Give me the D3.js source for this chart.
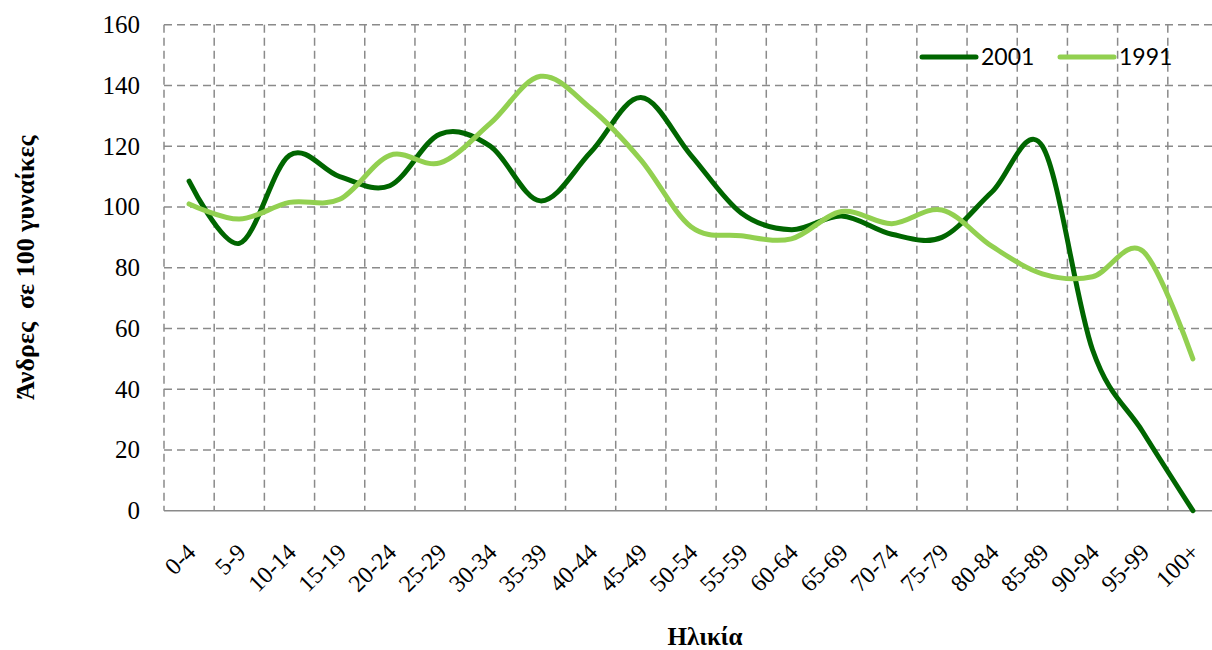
<!DOCTYPE html>
<html>
<head>
<meta charset="utf-8">
<script src="https://cdn.jsdelivr.net/npm/d3@7"></script>
<style>
  html, body { margin: 0; padding: 0; background: #fff; }
  svg { display: block; }
</style>
</head>
<body>
<svg id="chart" width="1212" height="650"></svg>
<script>
const categories = ["0-4","5-9","10-14","15-19","20-24","25-29","30-34","35-39","40-44","45-49","50-54","55-59","60-64","65-69","70-74","75-79","80-84","85-89","90-94","95-99","100+"];
const values2001 = [108.5, 88, 117, 110, 107, 124, 120, 102, 118, 136, 117, 98, 92.5, 97, 91, 90, 105, 120, 53, 26, 0];
const values1991 = [101, 96, 101.5, 102.5, 117, 114.5, 127.5, 143, 132.5, 115.5, 93.5, 90.5, 89.5, 98.5, 94.5, 99, 87, 78, 77, 85.5, 50];
const yTicks = [0, 20, 40, 60, 80, 100, 120, 140, 160];
const seriesNames = ["2001", "1991"];
const seriesColors = ["#006600", "#92D050"];

const svg = d3.select("#chart");
const mLeft = 164, mRight = 1218, mTop = 24.7, mBottom = 510.7;

const x = d3.scaleBand().domain(categories).range([mLeft, mRight]).padding(0);
const y = d3.scaleLinear().domain([0, 160]).range([mBottom, mTop]);
const cx = d => x(d) + x.bandwidth() / 2;

const gridColor = "#8a8a8a";
// horizontal gridlines
svg.append("g").selectAll("line").data(yTicks.filter(t => t > 0)).join("line")
  .attr("x1", mLeft).attr("x2", mRight)
  .attr("y1", d => y(d)).attr("y2", d => y(d))
  .attr("stroke", gridColor).attr("stroke-width", 1.5).attr("stroke-dasharray", "8,5");
// vertical gridlines at band boundaries
const bounds = categories.map(c => x(c));
svg.append("g").selectAll("line").data(bounds).join("line")
  .attr("x1", d => d).attr("x2", d => d)
  .attr("y1", mTop).attr("y2", mBottom)
  .attr("stroke", gridColor).attr("stroke-width", 1.5).attr("stroke-dasharray", "8,5");
// x axis line
svg.append("line").attr("x1", mLeft).attr("x2", mRight).attr("y1", mBottom).attr("y2", mBottom)
  .attr("stroke", "#8a8a8a").attr("stroke-width", 1.5);

// y tick labels
svg.append("g").selectAll("text").data(yTicks).join("text")
  .attr("x", 140).attr("y", d => y(d)).attr("dy", "0.34em")
  .attr("text-anchor", "end")
  .attr("font-family", "'Liberation Serif', 'Times New Roman', serif")
  .attr("font-size", 25).attr("fill", "#000")
  .text(d => d);

// x tick labels
svg.append("g").selectAll("text").data(categories).join("text")
  .attr("transform", d => `translate(${cx(d) + 8},${mBottom + 43}) rotate(-45)`)
  .attr("text-anchor", "end")
  .attr("font-family", "'Liberation Serif', 'Times New Roman', serif")
  .attr("font-size", 24).attr("fill", "#000")
  .text(d => d);

// lines
const line = d3.line().x((d, i) => cx(categories[i])).y(d => y(d)).curve(d3.curveCardinal.tension(0));
[values2001, values1991].forEach((vals, k) => {
  svg.append("path").datum(vals)
    .attr("d", line)
    .attr("fill", "none")
    .attr("stroke", seriesColors[k])
    .attr("stroke-width", 5)
    .attr("stroke-linecap", "round")
    .attr("stroke-linejoin", "round");
});

// legend
const legendX = [922, 1060];
seriesNames.forEach((name, k) => {
  svg.append("line").attr("x1", legendX[k]).attr("x2", legendX[k] + 54)
    .attr("y1", 57).attr("y2", 57)
    .attr("stroke", seriesColors[k]).attr("stroke-width", 5).attr("stroke-linecap", "round");
  svg.append("text").attr("x", legendX[k] + 59).attr("y", 57).attr("dy", "0.36em")
    .attr("font-family", "Lato, 'Open Sans', sans-serif").attr("font-size", 23).attr("fill", "#000")
    .text(name);
});

// axis titles
svg.append("text")
  .attr("transform", `translate(34,${(mTop + mBottom) / 2}) rotate(-90)`)
  .attr("text-anchor", "middle")
  .attr("font-family", "'Liberation Serif', 'Times New Roman', serif")
  .attr("font-weight", "bold").attr("font-size", 26)
  .style("white-space", "pre")
  .text("Άνδρες  σε 100 γυναίκες");

svg.append("text")
  .attr("x", 705).attr("y", 645)
  .attr("text-anchor", "middle")
  .attr("font-family", "'Liberation Serif', 'Times New Roman', serif")
  .attr("font-weight", "bold").attr("font-size", 25)
  .text("Ηλικία");
</script>
</body>
</html>
